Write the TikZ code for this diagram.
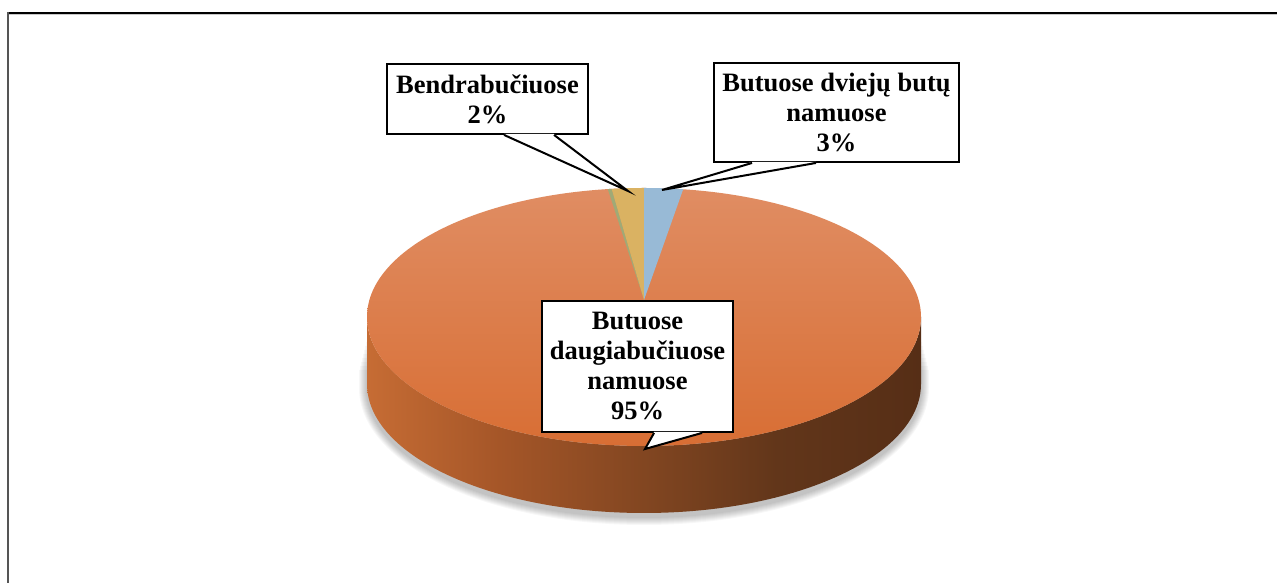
\documentclass[tikz,border=0pt]{standalone}
\usepackage{fontspec}
\setmainfont{Liberation Serif}
\usetikzlibrary{calc}
\definecolor{framegray}{RGB}{85,85,85}
\definecolor{shadowline}{RGB}{200,200,200}
\definecolor{topA}{RGB}{224,141,99}
\definecolor{topB}{RGB}{216,110,52}
\definecolor{sideA}{RGB}{198,108,52}
\definecolor{sideB}{RGB}{165,86,40}
\definecolor{sideC}{RGB}{130,70,33}
\definecolor{sideD}{RGB}{98,54,26}
\definecolor{sideE}{RGB}{86,46,22}
\definecolor{sliceb}{RGB}{152,186,214}
\definecolor{slicey}{RGB}{218,178,98}
\definecolor{sliceg}{RGB}{160,170,118}
\pgfdeclarehorizontalshading{sideshade}{100bp}{color(0bp)=(sideA); color(25bp)=(sideA); color(37bp)=(sideB); color(50bp)=(sideC); color(62bp)=(sideD); color(75bp)=(sideE); color(100bp)=(sideE)}
\tikzset{
  callbox/.style={draw=black, line width=1.9, fill=white, inner sep=0pt, align=center,
    font=\fontsize{26.5}{30}\selectfont\bfseries},
  pointerline/.style={draw=black, line width=2, line join=miter},
}
\begin{document}
\begin{tikzpicture}[x=1pt,y=1pt]
\useasboundingbox (0,0) rectangle (1277,583);
\fill[white] (0,0) rectangle (1277,583);
% frame
\draw[shadowline, line width=1.5] (8,568.3) -- (1277,568.3);
\draw[black, line width=1.6] (8,570) -- (1277,570);
\draw[framegray, line width=2.5] (8,0) -- (8,570.8);
% soft shadow
\foreach \i in {1,...,8} {
  \fill[black, opacity=0.03] (367-\i,245-4*\i) -- (367-\i,195) arc[start angle=180, end angle=360, x radius=277+\i, y radius=129+\i] -- (921+\i,245-4*\i) -- cycle;
}
% side
\shade[shading=sideshade] (367,266) -- (367,199) arc[start angle=180, end angle=360, x radius=277, y radius=129] -- (921,266) arc[start angle=0, end angle=-180, x radius=277, y radius=129] -- cycle;
% top face
\shade[top color=topA, bottom color=topB] (644,266) ellipse[x radius=277, y radius=129];
% small slices
\begin{scope}
  \clip (644,266) ellipse[x radius=277, y radius=129];
  \fill[sliceg] (644,283) -- (601.5,413) -- (606.2,413) -- cycle;
  \fill[slicey] (644,283) -- (606.2,413) -- (644,413) -- cycle;
  \fill[sliceb] (644,283) -- (644,413) -- (690,413) -- cycle;
\end{scope}
% callouts
\node[callbox, minimum width=201, minimum height=70] (b1) at (487.5,484) {Bendrabučiuose\\2\%};
\node[callbox, minimum width=245, minimum height=99] (b2) at (836.5,470.5) {Butuose dviejų butų\\namuose\\3\%};
\node[callbox, minimum width=191, minimum height=131] (b3) at (637.5,216.5) {Butuose\\daugiabučiuose\\namuose\\95\%};
\coordinate (t1) at (628,392);
\coordinate (t2) at (662,393);
\coordinate (t3) at (645,134);
% pointer 1
\fill[white] ($(b1.south west)+(118,1)$) -- (t1) -- ($(b1.south west)+(168,1)$) -- cycle;
\draw[pointerline] ($(b1.south west)+(118,0)$) -- (t1) -- ($(b1.south west)+(168,0)$);
% pointer 2
\fill[white] ($(b2.south west)+(39,1)$) -- (t2) -- ($(b2.south west)+(103,1)$) -- cycle;
\draw[pointerline] ($(b2.south west)+(39,0)$) -- (t2) -- ($(b2.south west)+(103,0)$);
% pointer 3
\fill[white] ($(b3.south west)+(113,1)$) -- (t3) -- ($(b3.south west)+(161,1)$) -- cycle;
\draw[pointerline] ($(b3.south west)+(113,0)$) -- (t3) -- ($(b3.south west)+(161,0)$);
\end{tikzpicture}
\end{document}
